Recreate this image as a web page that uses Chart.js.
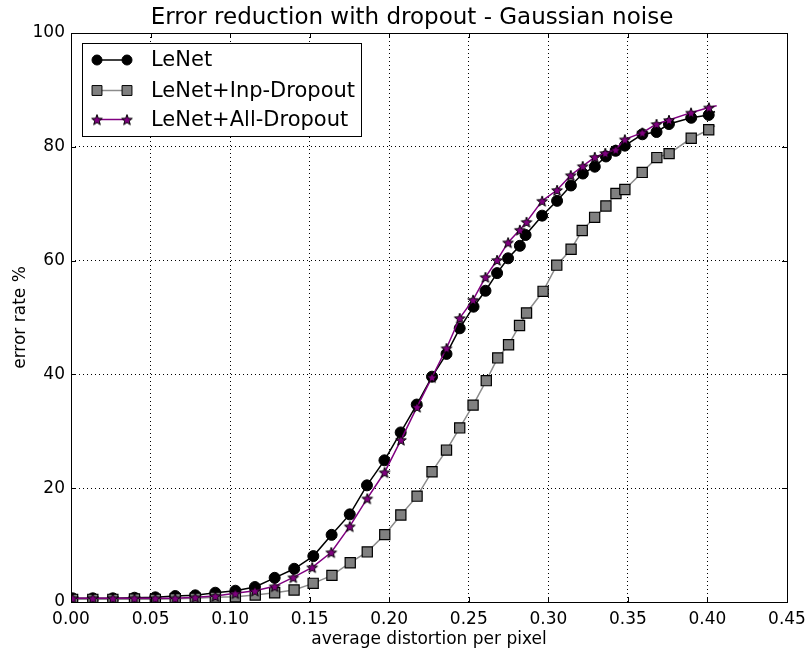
<!DOCTYPE html>
<html>
<head>
<meta charset="utf-8">
<script src="https://cdn.jsdelivr.net/npm/chart.js@4"></script>
<style>
  html, body { margin: 0; padding: 0; background: #fff; }
  #wrap { width: 808px; height: 651px; }
</style>
</head>
<body>
<div id="wrap"><canvas id="chart" width="808" height="651"></canvas></div>
<script>

const titleText = "Error reduction with dropout - Gaussian noise"
const xLabel = "average distortion per pixel"
const yLabel = "error rate %"
const seriesNames = ["LeNet", "LeNet+Inp-Dropout", "LeNet+All-Dropout"]

const xTicks = [0, 0.05, 0.10, 0.15, 0.20, 0.25, 0.30, 0.35, 0.40, 0.45]
const yTicks = [0, 20, 40, 60, 80, 100]

// x positions of the markers (last value = end of the line, no marker)
const lenetX = [0.001,0.0137,0.0263,0.0399,0.053,0.0655,0.0781,0.0907,0.1033,0.1156,0.128,0.1403,0.1523,0.1638,0.1752,0.186,0.197,0.2072,0.2173,0.2269,0.236,0.2443,0.253,0.2605,0.2678,0.2747,0.2821,0.2857,0.2961,0.3055,0.3142,0.3217,0.3292,0.3362,0.3423,0.3481,0.3591,0.368,0.3758,0.3898,0.4008,0.4047]
const lenetY = [0.65,0.65,0.65,0.75,0.82,1.05,1.17,1.63,1.98,2.63,4.25,5.84,8.07,11.8,15.4,20.5,24.9,29.8,34.7,39.6,43.6,48.1,51.9,54.7,57.8,60.4,62.6,64.5,67.9,70.5,73.2,75.3,76.5,78.3,79.3,80.2,82.2,82.6,84.0,85.1,85.6,86.2]

const inpX = [0.001,0.0137,0.0263,0.0399,0.053,0.0655,0.0781,0.0907,0.1033,0.1158,0.128,0.1402,0.1522,0.164,0.1755,0.1862,0.1972,0.2073,0.2175,0.2269,0.236,0.2443,0.2527,0.261,0.2682,0.275,0.2819,0.2863,0.2967,0.3053,0.3143,0.3213,0.3291,0.3362,0.3425,0.3481,0.359,0.3682,0.3759,0.3898,0.4008,0.4047]
const inpY = [0.47,0.47,0.47,0.53,0.47,0.58,0.65,0.82,0.93,1.23,1.63,2.1,3.28,4.68,6.9,8.8,11.84,15.3,18.6,22.9,26.7,30.6,34.6,38.9,42.9,45.2,48.6,50.8,54.6,59.2,62.0,65.3,67.6,69.6,71.8,72.5,75.5,78.1,78.8,81.5,83.0,83.7]

const allX = [0.001,0.0137,0.0263,0.0399,0.053,0.0655,0.0781,0.0907,0.1033,0.1156,0.128,0.1397,0.1516,0.1636,0.1752,0.1862,0.1971,0.2074,0.2175,0.2269,0.236,0.2443,0.2527,0.2605,0.2678,0.2747,0.2821,0.2863,0.2961,0.3055,0.3141,0.3216,0.3292,0.3358,0.3423,0.3481,0.3591,0.368,0.3758,0.3897,0.4009,0.4058]
const allY = [0.65,0.65,0.65,0.65,0.65,0.65,0.82,1.05,1.52,1.98,2.75,4.33,6.1,8.74,13.3,18.2,22.8,28.5,34.3,39.5,44.6,49.9,53.1,57.1,60.1,63.2,65.4,66.8,70.5,72.4,75.0,76.6,78.2,78.9,79.5,81.3,82.5,84.0,84.7,86.0,86.9,87.2]

const font = "'DejaVu Sans', sans-serif"

function toPoints(xs, ys){
    return xs.map((x, i) => ({x: x, y: ys[i]}))
}

function makeStar(r){
    const c = document.createElement("canvas")
    const s = Math.ceil(r * 2 + 4)
    c.width = s
    c.height = s
    const g = c.getContext("2d")
    g.translate(s / 2, s / 2 + 0.7)
    g.beginPath()
    for(let i = 0; i < 10; i++){
        const rr = i % 2 ? r * 0.42 : r
        const a = -Math.PI / 2 + i * Math.PI / 5
        g.lineTo(rr * Math.cos(a), rr * Math.sin(a))
    }
    g.closePath()
    g.fillStyle = "#800080"
    g.fill()
    g.strokeStyle = "#000"
    g.lineWidth = 1
    g.stroke()
    return c
}

const star = makeStar(5.6)

// hide the marker on the final (line end) point
function markerRadius(r){
    return (ctx) => ctx.dataIndex === ctx.dataset.data.length - 1 ? 0 : r
}

const frame = {
    id: "frame",
    afterDatasetsDraw(chart){
        const {ctx, chartArea: a, scales} = chart
        ctx.save()
        ctx.strokeStyle = "#000"
        ctx.lineWidth = 1
        ctx.beginPath()
        xTicks.forEach(t => {
            const x = Math.round(scales.x.getPixelForValue(t)) + 0.5
            ctx.moveTo(x, a.bottom); ctx.lineTo(x, a.bottom - 5)
            ctx.moveTo(x, a.top); ctx.lineTo(x, a.top + 5)
        })
        yTicks.forEach(t => {
            const y = Math.round(scales.y.getPixelForValue(t)) + 0.5
            ctx.moveTo(a.left, y); ctx.lineTo(a.left + 5, y)
            ctx.moveTo(a.right, y); ctx.lineTo(a.right - 5, y)
        })
        ctx.stroke()
        ctx.strokeRect(Math.round(a.left) + 0.5, Math.round(a.top) + 0.5,
            Math.round(a.right - a.left), Math.round(a.bottom - a.top))
        ctx.restore()
    },
    afterDraw(chart){
        const {ctx} = chart
        ctx.save()

        // title
        ctx.fillStyle = "#000"
        ctx.font = "23px " + font
        ctx.textAlign = "center"
        ctx.textBaseline = "middle"
        ctx.fillText(titleText, 412, 18)
        ctx.textAlign = "left"

        // legend box in the upper left corner of the axes
        const bx = 82.5, by = 43.5, bw = 279, bh = 93
        ctx.fillStyle = "#fff"
        ctx.fillRect(bx, by, bw, bh)
        ctx.strokeStyle = "#000"
        ctx.lineWidth = 1
        ctx.strokeRect(bx, by, bw, bh)
        const rows = [60, 90.5, 119.5]
        chart.data.datasets.forEach((ds, i) => {
            const y = rows[i]
            ctx.strokeStyle = ds.borderColor
            ctx.lineWidth = ds.borderWidth
            ctx.beginPath()
            ctx.moveTo(97, y); ctx.lineTo(127, y)
            ctx.stroke()
            ;[97, 127].forEach(x => {
                if(typeof ds.pointStyle === "string"){
                    ctx.fillStyle = ds.pointBackgroundColor
                    ctx.strokeStyle = "#000"
                    ctx.lineWidth = 1
                    ctx.beginPath()
                    if(ds.pointStyle === "circle"){
                        ctx.arc(x, y, ds.legendRadius, 0, Math.PI * 2)
                    } else {
                        const h = ds.legendRadius * Math.SQRT1_2
                        ctx.rect(x - h, y - h, h * 2, h * 2)
                    }
                    ctx.fill()
                    ctx.stroke()
                } else {
                    ctx.drawImage(ds.pointStyle, x - ds.pointStyle.width / 2, y - ds.pointStyle.height / 2)
                }
            })
            ctx.fillStyle = "#000"
            ctx.font = "21px " + font
            ctx.textBaseline = "middle"
            ctx.fillText(seriesNames[i], 151, y + 1)
        })
        ctx.restore()
    }
}

new Chart(document.getElementById("chart"), {
    type: "line",
    data: {
        datasets: [
            {
                label: seriesNames[0],
                data: toPoints(lenetX, lenetY),
                borderColor: "#000",
                borderWidth: 1.5,
                pointStyle: "circle",
                pointRadius: markerRadius(5.5),
                legendRadius: 5,
                pointBackgroundColor: "#000",
                pointBorderColor: "#000",
                pointBorderWidth: 1,
                order: 3
            },
            {
                label: seriesNames[1],
                data: toPoints(inpX, inpY),
                borderColor: "#8c8c8c",
                borderWidth: 1.5,
                pointStyle: "rect",
                pointRadius: markerRadius(7.2),
                legendRadius: 7,
                pointBackgroundColor: "#808080",
                pointBorderColor: "#000",
                pointBorderWidth: 1.2,
                order: 2
            },
            {
                label: seriesNames[2],
                data: toPoints(allX, allY),
                borderColor: "#800080",
                borderWidth: 1.5,
                pointStyle: star,
                pointRadius: markerRadius(5.6),
                legendRadius: 5.6,
                pointBackgroundColor: "#800080",
                pointBorderColor: "#000",
                order: 1
            }
        ]
    },
    options: {
        responsive: false,
        animation: false,
        devicePixelRatioOverride: 1,
        layout: { padding: { left: 0, right: 21, top: 33, bottom: 0 } },
        elements: { line: { tension: 0 } },
        plugins: {
            legend: { display: false },
            tooltip: { enabled: false },
            title: { display: false }
        },
        scales: {
            x: {
                type: "linear",
                min: 0,
                max: 0.45,
                afterFit(s){ s.height = 49; s.paddingLeft = 0; s.paddingRight = 0 },
                afterBuildTicks(s){ s.ticks = xTicks.map(v => ({value: v})) },
                ticks: {
                    color: "#000",
                    padding: 7,
                    maxRotation: 0,
                    font: { family: font, size: 17 },
                    callback: v => v.toFixed(2)
                },
                grid: { color: "#000", lineWidth: 1, drawTicks: false },
                border: { display: false, dash: [1, 3] },
                title: {
                    display: true,
                    text: xLabel,
                    color: "#000",
                    font: { family: font, size: 17 },
                    padding: { top: 0, bottom: 1 }
                }
            },
            y: {
                min: 0,
                max: 100,
                afterFit(s){ s.width = 71; s.paddingTop = 0; s.paddingBottom = 0 },
                afterBuildTicks(s){ s.ticks = yTicks.map(v => ({value: v})) },
                ticks: {
                    color: "#000",
                    padding: 6,
                    font: { family: font, size: 17 }
                },
                grid: { color: "#000", lineWidth: 1, drawTicks: false },
                border: { display: false, dash: [1, 3] },
                title: {
                    display: true,
                    text: yLabel,
                    color: "#000",
                    font: { family: font, size: 17 },
                    padding: { top: 10, bottom: 0 }
                }
            }
        }
    },
    plugins: [frame]
})

</script>
</body>
</html>
